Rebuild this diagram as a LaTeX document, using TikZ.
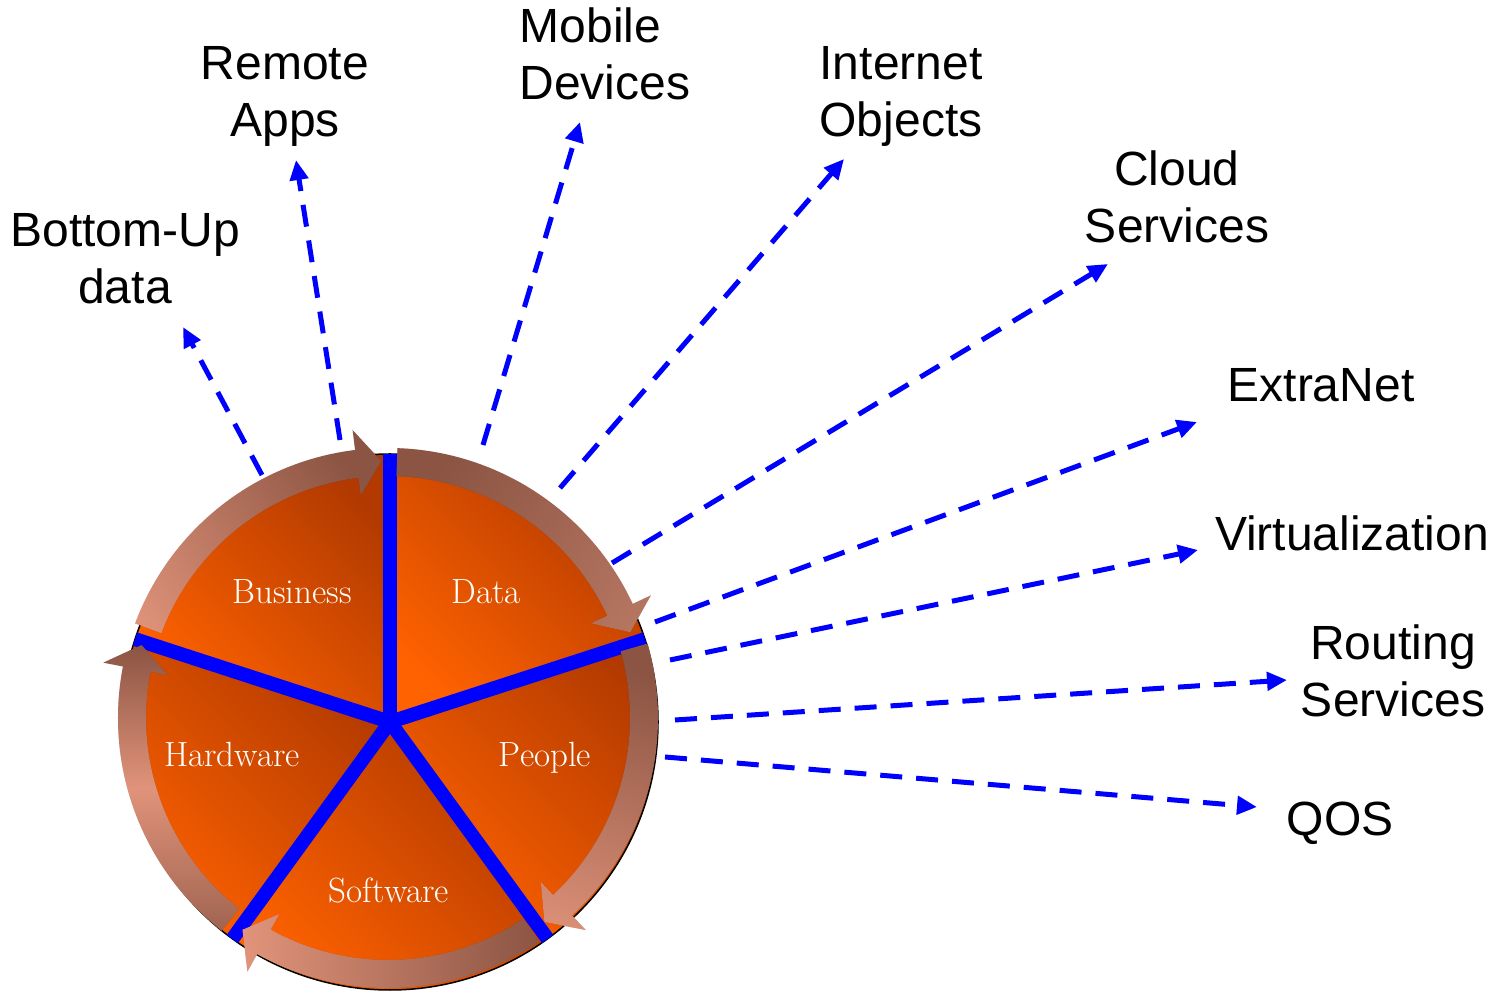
\documentclass[tikz,border=0pt]{standalone}
\usepackage{fontspec}
\newfontfamily\labfont{Liberation Sans}
\usetikzlibrary{arrows.meta,calc}
\definecolor{blueline}{HTML}{0000FF}
\definecolor{orbright}{HTML}{FF6200}
\definecolor{ordark}{HTML}{B23A00}
\definecolor{ringdark}{HTML}{8B5443}
\definecolor{ringlight}{HTML}{E0937A}
\definecolor{ringmid}{HTML}{B87863}
\newcommand{\ringpath}[2]{%
  (R) ++(#1:270pt) arc[start angle=#1, end angle=\hb, radius=270pt]
     -- ($(R)+(\hb:290pt)$) -- ($(R)+(#2:257pt)$) -- ($(R)+(\hb:224pt)$) -- ($(R)+(\hb:242pt)$)
     arc[start angle=\hb, end angle=#1, radius=242pt] -- cycle}
\newcommand{\ringarrow}[3]{%
  \pgfmathsetmacro{\hb}{#2+5.5}%
  \fill[black, opacity=0.12, xshift=2pt, yshift=-3pt] \ringpath{#1}{#2};
  \fill[black, opacity=0.08, xshift=4pt, yshift=-6pt] \ringpath{#1}{#2};
  \shade[#3] \ringpath{#1}{#2};}
\begin{document}
\begin{tikzpicture}[x=1pt,y=1pt,
  dasharrow/.style={draw=blueline, line width=5pt, dash pattern=on 22pt off 14pt, -{Triangle[length=20pt,width=18pt]}},
  outlabel/.style={font=\labfont\fontsize{48}{57}\selectfont, align=center, inner sep=0pt},
  seglabel/.style={font=\fontsize{35}{40}\selectfont, text=white, inner sep=0pt, anchor=base},
  sector/.style={top color=ordark, bottom color=orbright, shading angle=-45},
  spoke/.style={draw=blueline, line width=14pt},
]
\useasboundingbox (0,0) rectangle (1493,990);
\coordinate (C) at (390,268);
\coordinate (R) at (388,272);

% dashed connectors
\coordinate (s1) at (262,515); \coordinate (e1) at (183,663);
\coordinate (s2) at (340,550); \coordinate (e2) at (296,830);
\coordinate (s3) at (483,545); \coordinate (e3) at (580,868);
\coordinate (s4) at (560,502); \coordinate (e4) at (844,831);
\coordinate (s5) at (612,427); \coordinate (e5) at (1108,726);
\coordinate (s6) at (655,368); \coordinate (e6) at (1197,568);
\coordinate (s7) at (670,330); \coordinate (e7) at (1198,440);
\coordinate (s8) at (675,270); \coordinate (e8) at (1287,310);
\coordinate (s9) at (665,233); \coordinate (e9) at (1257,183);
\foreach \i in {1,...,9} \draw[dasharrow] (s\i) -- (e\i);

% pie
\foreach \a in {18,90,162,234,306}
  \shade[sector] (C) -- ++(\a:268pt) arc[start angle=\a, delta angle=72, radius=268pt] -- cycle;
\draw[black, line width=1.5pt] (C) circle[radius=268pt];
\foreach \a in {18,90,162,234,306}
  \draw[spoke] (C) -- ++(\a:268pt);
\fill[blueline] (C) circle[radius=7pt];

% circular arrows
\ringarrow{159.5}{91.5}{top color=ringdark, bottom color=ringlight, shading angle=-55}
\ringarrow{88}{19.5}{top color=ringdark, bottom color=ringmid, shading angle=53}
\ringarrow{16}{-52.5}{top color=ringdark, bottom color=ringlight, shading angle=-18}
\ringarrow{-56}{-124.5}{top color=ringdark, bottom color=ringlight, shading angle=-88}
\ringarrow{-128}{-196.5}{top color=ringdark, bottom color=ringdark!75!ringlight, middle color=ringlight, shading angle=0}

% segment labels
\node[seglabel] (business) at (292,386) {Business};
\node[seglabel] (data) at (486,386) {Data};
\node[seglabel] (hardware) at (232,223) {Hardware};
\node[seglabel] (people) at (545,223) {People};
\node[seglabel] (software) at (389,87) {Software};

% outer labels
\node[outlabel] (bottomup) at (125,731.5) {Bottom-Up\\data};
\node[outlabel] (remote) at (285,893.5) {Remote\\Apps};
\node[outlabel, align=left] (mobile) at (605,936) {Mobile\\Devices};
\node[outlabel, align=left] (internet) at (901,893.5) {Internet\\Objects};
\node[outlabel] (cloud) at (1177,793.5) {Cloud\\Services};
\node[outlabel, anchor=base] (extranet) at (1321,588) {ExtraNet};
\node[outlabel, anchor=base] (virt) at (1352,439) {Virtualization};
\node[outlabel] (routing) at (1393,319) {Routing\\Services};
\node[outlabel, anchor=base] (qos) at (1340,154) {QOS};
\end{tikzpicture}
\end{document}
